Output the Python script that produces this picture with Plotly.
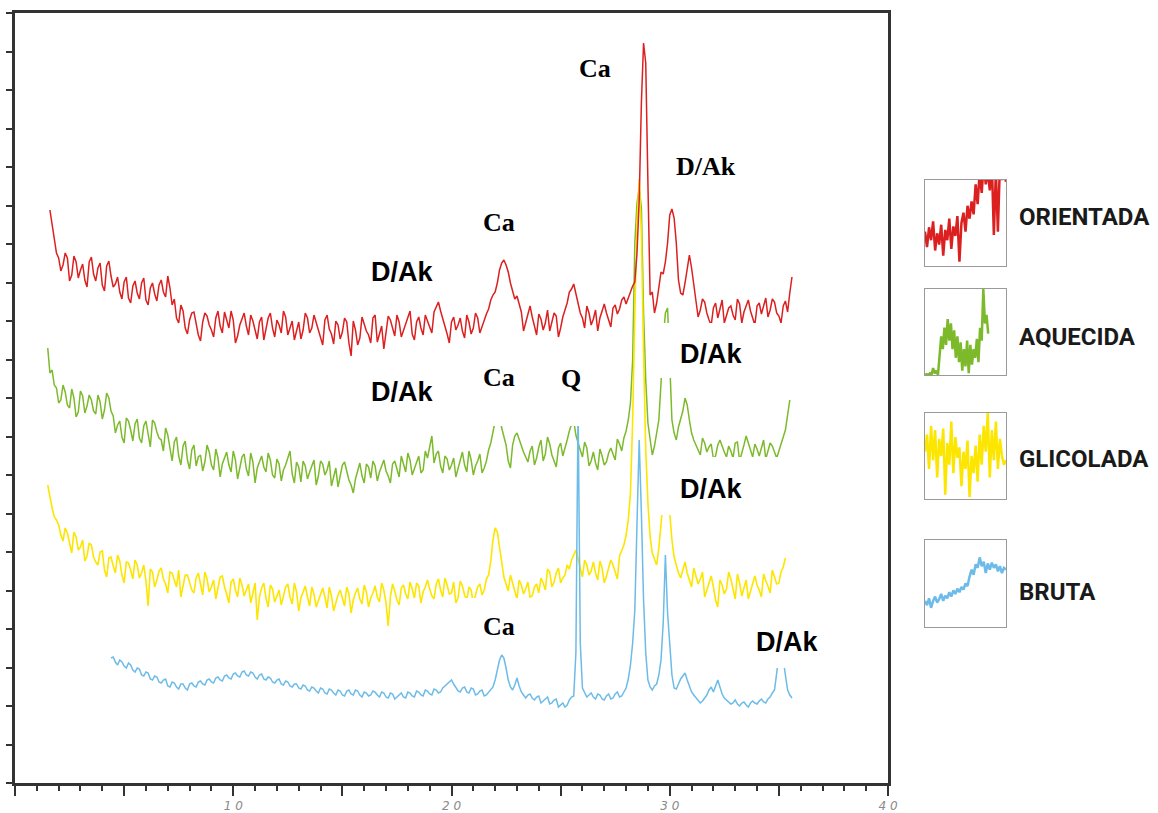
import numpy as np
import plotly.graph_objects as go

# ---------------- data: 2-theta (deg) vs intensity (arbitrary units, stacked traces) ----------------
# each series: readings on a 0.2 deg grid ("*_y") plus the readings half-way between them ("*_mid")
red_x0 = 1.6
red_y = [573, 545, 525, 518, 525, 508, 521, 513, 503, 521, 509, 515, 498, 517, 507, 499, 491, 501, 485, 497,
         490, 500, 483, 495, 489, 498, 491, 507, 478, 465, 478, 455, 463, 471, 448, 461, 467, 453, 465, 457,
         471, 455, 463, 447, 465, 457, 468, 453, 461, 443, 465, 455, 463, 450, 466, 456, 443, 461, 453, 465,
         455, 461, 446, 463, 454, 439, 458, 451, 461, 427, 453, 445, 459, 448, 465, 441, 457, 450, 463, 447,
         461, 453, 467, 449, 461, 455, 468, 457, 471, 481, 465, 449, 461, 453, 465, 445, 461, 455, 465, 457,
         469, 483, 491, 513, 523, 511, 493, 487, 471, 461, 477, 457, 469, 453, 473, 461, 467, 455, 473, 491,
         499, 481, 465, 477, 458, 473, 465, 479, 463, 475, 469, 483, 479, 493, 501, 583, 740, 600, 491, 480,
         511, 521, 568, 565, 503, 488, 513, 515, 483, 473, 481, 463, 475, 465, 483, 467, 477, 463, 479, 471,
         483, 465, 477, 469, 485, 473, 481, 467, 477, 471, 506]
red_mid = [560, 530, 512, 530, 502, 527, 505, 519, 496, 526, 502, 520, 492, 522, 496, 506, 484, 506, 480, 502,
           484, 505, 478, 500, 482, 503, 486, 495, 484, 460, 472, 449, 470, 459, 442, 470, 458, 446, 472, 450,
           463, 472, 440, 458, 470, 448, 462, 444, 466, 456, 470, 446, 458, 472, 448, 462, 452, 444, 470, 450,
           468, 452, 438, 468, 449, 462, 444, 465, 440, 462, 438, 466, 452, 440, 468, 450, 434, 467, 455, 468,
           446, 459, 472, 443, 466, 448, 462, 450, 476, 472, 457, 440, 466, 458, 452, 468, 449, 470, 450, 464,
           474, 488, 500, 520, 518, 500, 484, 478, 452, 470, 466, 448, 464, 460, 452, 470, 446, 466, 480, 494,
           490, 470, 455, 470, 464, 452, 472, 470, 456, 478, 474, 486, 485, 497, 530, 680, 720, 488, 470, 494,
           509, 540, 574, 540, 490, 500, 528, 497, 466, 484, 470, 458, 480, 474, 460, 475, 468, 484, 460, 478,
           472, 458, 480, 476, 466, 484, 470, 460, 482, 490]

green_x0 = 1.5
green_y = [435, 413, 395, 383, 391, 375, 385, 371, 387, 377, 383, 369, 381, 373, 385, 367, 358, 346, 365, 353,
           359, 345, 357, 349, 363, 351, 343, 355, 335, 341, 327, 337, 323, 333, 317, 328, 321, 331, 313, 325,
           319, 331, 311, 323, 317, 329, 307, 321, 315, 327, 311, 323, 305, 319, 313, 325, 309, 321, 301, 317,
           311, 323, 307, 319, 313, 297, 315, 309, 321, 303, 290, 313, 307, 319, 305, 317, 311, 323, 307, 319,
           313, 327, 311, 323, 315, 327, 313, 325, 347, 329, 317, 327, 313, 325, 315, 331, 311, 323, 317, 329,
           315, 333, 353, 365, 355, 338, 315, 347, 343, 331, 321, 337, 325, 343, 329, 339, 321, 335, 327, 343,
           359, 348, 333, 341, 317, 331, 313, 327, 321, 335, 323, 339, 345, 363, 423, 580, 575, 403, 343, 337,
           363, 443, 475, 363, 343, 365, 385, 363, 343, 333, 345, 331, 339, 327, 343, 331, 337, 325, 341, 329,
           347, 333, 339, 327, 343, 331, 337, 325, 338, 353, 383]
green_mid = [410, 398, 380, 398, 378, 394, 366, 392, 370, 388, 372, 388, 364, 390, 372, 350, 362, 340, 362, 342,
             364, 340, 362, 336, 360, 345, 332, 348, 322, 346, 318, 342, 314, 338, 326, 312, 338, 318, 334, 306,
             325, 318, 332, 304, 326, 314, 330, 300, 322, 316, 330, 308, 324, 302, 318, 332, 300, 316, 322, 304,
             318, 298, 322, 308, 322, 306, 296, 318, 312, 298, 304, 320, 300, 316, 322, 302, 318, 312, 300, 322,
             306, 320, 330, 308, 322, 310, 332, 336, 320, 332, 310, 324, 318, 306, 324, 318, 332, 308, 322, 310,
             322, 340, 362, 368, 345, 322, 338, 350, 336, 326, 332, 318, 336, 322, 346, 328, 316, 340, 334, 352,
             362, 340, 326, 335, 322, 320, 334, 318, 330, 328, 344, 332, 352, 380, 540, 595, 470, 360, 328, 350,
             400, 470, 420, 350, 356, 372, 378, 350, 338, 328, 340, 336, 324, 338, 336, 326, 332, 340, 322, 338,
             340, 326, 334, 336, 324, 340, 330, 332, 346, 370]

yellow_x0 = 1.5
yellow_y = [298, 275, 263, 248, 255, 238, 251, 233, 243, 227, 238, 221, 231, 213, 225, 217, 228, 208, 221, 213,
            223, 205, 218, 177, 211, 203, 215, 199, 211, 203, 213, 197, 208, 193, 205, 199, 211, 191, 203, 195,
            207, 189, 201, 193, 205, 187, 199, 191, 163, 195, 185, 198, 181, 193, 187, 199, 179, 191, 185, 197,
            177, 189, 183, 195, 175, 187, 181, 193, 177, 189, 183, 195, 179, 191, 185, 197, 181, 193, 157, 199,
            183, 195, 189, 201, 185, 197, 191, 203, 187, 199, 193, 205, 189, 201, 185, 197, 183, 193, 187, 199,
            193, 208, 243, 251, 221, 198, 208, 191, 203, 189, 201, 187, 199, 205, 193, 211, 201, 215, 205, 218,
            223, 233, 215, 223, 208, 221, 203, 215, 207, 223, 211, 227, 238, 263, 363, 560, 550, 333, 246, 223,
            235, 283, 303, 243, 217, 205, 221, 203, 215, 199, 211, 193, 207, 183, 203, 189, 211, 195, 209, 187,
            203, 191, 207, 193, 209, 197, 213, 199, 211, 225]
yellow_mid = [285, 266, 258, 242, 250, 230, 246, 236, 222, 240, 226, 218, 232, 206, 226, 210, 222, 200, 220, 204,
              218, 210, 202, 214, 196, 212, 204, 190, 210, 196, 186, 208, 200, 190, 210, 188, 204, 196, 184, 206,
              196, 180, 204, 186, 198, 194, 180, 200, 186, 200, 176, 194, 188, 178, 196, 186, 200, 172, 192, 186,
              196, 176, 190, 186, 196, 172, 188, 184, 196, 170, 190, 184, 198, 176, 190, 186, 200, 180, 186, 192,
              178, 198, 184, 194, 200, 180, 196, 194, 184, 204, 186, 198, 190, 180, 202, 188, 196, 180, 196, 188,
              204, 222, 255, 238, 206, 192, 200, 184, 198, 194, 186, 196, 190, 200, 214, 196, 210, 200, 208, 214,
              228, 224, 206, 218, 212, 210, 222, 200, 216, 218, 204, 232, 248, 290, 470, 604, 430, 280, 230, 218,
              260, 300, 270, 226, 210, 214, 210, 196, 208, 204, 186, 200, 196, 176, 198, 194, 204, 184, 200, 196,
              184, 200, 198, 186, 202, 190, 206, 200, 216]

blue_x0 = 4.4
blue_y = [125, 121, 123, 117, 120, 113, 115, 108, 111, 104, 107, 101, 103, 97, 101, 96, 99, 95, 99, 97,
          101, 99, 103, 101, 105, 103, 107, 105, 109, 107, 111, 108, 111, 106, 108, 104, 106, 101, 103, 99,
          102, 97, 99, 95, 98, 93, 96, 92, 95, 90, 94, 90, 93, 88, 92, 89, 93, 88, 91, 87,
          92, 88, 91, 86, 90, 84, 89, 86, 91, 87, 92, 88, 93, 89, 94, 90, 95, 99, 103, 95,
          91, 96, 90, 94, 89, 93, 88, 93, 103, 123, 125, 103, 93, 105, 91, 85, 89, 83, 87, 82,
          86, 80, 84, 78, 76, 83, 87, 378, 95, 86, 90, 84, 88, 83, 89, 85, 91, 87, 95, 118,
          173, 343, 183, 103, 93, 99, 123, 228, 133, 95, 99, 107, 103, 91, 85, 80, 85, 93, 91, 103,
          89, 83, 79, 83, 77, 81, 76, 82, 79, 84, 80, 86, 93, 128, 123, 93, 85]
blue_mid = [126, 118, 121, 115, 118, 111, 114, 107, 110, 103, 106, 100, 104, 96, 100, 94, 99, 93, 100, 96,
            102, 98, 104, 100, 106, 102, 108, 104, 110, 106, 112, 107, 110, 104, 109, 103, 105, 100, 104, 98,
            101, 96, 99, 94, 97, 92, 95, 90, 94, 89, 93, 88, 92, 87, 93, 88, 92, 86, 90, 88,
            91, 86, 90, 85, 89, 86, 90, 85, 90, 86, 91, 87, 92, 88, 93, 91, 97, 101, 99, 92,
            95, 91, 95, 88, 92, 87, 91, 96, 112, 128, 115, 96, 98, 97, 88, 88, 85, 86, 80, 85,
            79, 83, 76, 80, 78, 86, 130, 140, 90, 88, 86, 89, 84, 87, 84, 89, 86, 91, 104, 140,
            260, 270, 130, 96, 97, 108, 160, 170, 108, 94, 104, 110, 97, 88, 82, 82, 88, 96, 98, 96,
            85, 81, 80, 79, 80, 78, 80, 80, 82, 81, 84, 90, 110, 138, 108, 88]

# legend thumbnails (normalised 0-1 inside each little box)
leg_red = [0.40, 0.22, 0.45, 0.30, 0.52, 0.18, 0.38, 0.25, 0.48, 0.12, 0.42, 0.30, 0.55, 0.20, 0.46, 0.35,
           0.58, 0.05, 0.50, 0.62, 0.40, 0.70, 0.55, 0.75, 0.60, 0.95, 0.72, 1.10, 0.85, 1.20, 0.95, 1.10,
           0.88, 1.20, 0.36, 1.10, 0.40, 1.20, 1.00, 1.10, 0.98]
leg_green = [0.00, 0.01, 0.00, 0.02, 0.00, 0.08, 0.02, 0.05, 0.00, 0.25, 0.45, 0.30, 0.55, 0.35, 0.65, 0.40,
             0.60, 0.30, 0.52, 0.20, 0.45, 0.15, 0.38, 0.05, 0.30, 0.10, 0.40, 0.02, 0.35, 0.12, 0.30, 0.20,
             0.42, 0.15, 0.55, 0.40, 1.00, 0.60, 0.70, 0.48]
leg_yellow = [0.55, 0.75, 0.35, 0.85, 0.45, 0.80, 0.25, 0.70, 0.50, 0.82, 0.05, 0.65, 0.40, 0.90, 0.30, 0.72,
              0.48, 0.60, 0.15, 0.55, 0.35, 0.68, 0.02, 0.50, 0.30, 0.62, 0.20, 0.75, 0.40, 0.85, 0.55, 1.00,
              0.25, 0.80, 0.45, 0.90, 0.35, 0.70, 0.50, 0.40, 0.45]
leg_blue = [0.30, 0.25, 0.33, 0.22, 0.30, 0.35, 0.28, 0.32, 0.38, 0.30, 0.36, 0.33, 0.40, 0.35, 0.42, 0.38,
            0.44, 0.40, 0.46, 0.43, 0.50, 0.47, 0.58, 0.66, 0.60, 0.72, 0.68, 0.80, 0.70, 0.75, 0.62, 0.73,
            0.66, 0.74, 0.68, 0.72, 0.64, 0.70, 0.62, 0.68, 0.66]

names = ["ORIENTADA", "AQUECIDA", "GLICOLADA", "BRUTA"]
x_tickvals = [0, 5, 10, 15, 20, 25, 30, 35, 40]
x_ticktext = ["", "", "1 0", "", "2 0", "", "3 0", "", "4 0"]

RED, GREEN, YELLOW, BLUE = "#dc2020", "#7cba2c", "#fce600", "#6cbbe8"


def series(x0, ys, mids):
    """Interleave grid readings and mid-point readings -> 0.1 deg spaced series."""
    vals = []
    for i, v in enumerate(ys):
        vals.append(v)
        if i < len(mids) and i < len(ys) - 1:
            vals.append(mids[i])
    xs = np.round(x0 + 0.1 * np.arange(len(vals)), 2)
    return xs, vals


fig = go.Figure()
for x0, ys, mids, col, w in [(green_x0, green_y, green_mid, GREEN, 1.5),
                             (yellow_x0, yellow_y, yellow_mid, YELLOW, 1.6),
                             (blue_x0, blue_y, blue_mid, BLUE, 1.5),
                             (red_x0, red_y, red_mid, RED, 1.5)]:
    xs, vs = series(x0, ys, mids)
    fig.add_trace(go.Scatter(x=xs, y=vs, mode="lines", line=dict(color=col, width=w),
                             showlegend=False, hoverinfo="skip"))

thumbs = [(leg_red, RED, 1.0 / 40), (leg_green, GREEN, 0.02), (leg_yellow, YELLOW, 1.0 / 40),
          (leg_blue, BLUE, 1.0 / 40)]
for i, (ys, col, st) in enumerate(thumbs):
    k = i + 2
    fig.add_trace(go.Scatter(x=[j * st for j in range(len(ys))], y=ys, mode="lines",
                             line=dict(color=col, width=2.5), showlegend=False, hoverinfo="skip",
                             xaxis=f"x{k}", yaxis=f"y{k}"))

W, H = 1158, 813
ml, mr, mt, mb = 15, 10, 13, 30
pw, ph = W - ml - mr, H - mt - mb


def px2paper_x(p):
    return (p - ml) / pw


def py2paper_y(p):
    return (H - mb - p) / ph


layout = dict(
    width=W, height=H, margin=dict(l=ml, r=mr, t=mt, b=mb, autoexpand=False),
    paper_bgcolor="white", plot_bgcolor="white",
    xaxis=dict(domain=[0, px2paper_x(888)], range=[0, 40], tickvals=x_tickvals, ticktext=x_ticktext,
               ticks="outside", ticklen=10, tickwidth=2, tickcolor="#333", automargin=False,
               minor=dict(dtick=1, ticks="outside", ticklen=5, tickwidth=2, tickcolor="#333"),
               showline=True, linecolor="#333", linewidth=2.5, mirror=True, showgrid=False, zeroline=False,
               tickfont=dict(family="DejaVu Sans", size=12, color="#8a8a8a", style="italic"),
               ticklabelstandoff=0),
    yaxis=dict(domain=[0, 1], range=[0, 770], tick0=0, dtick=38.5, ticks="outside", ticklen=6, tickwidth=2,
               tickcolor="#333", showticklabels=False, showline=True, linecolor="#333", linewidth=2.5,
               mirror=True, showgrid=False, zeroline=False, automargin=False),
)
boxes_px = [(180, 266), (289, 375), (413, 499), (540, 627)]
for i, (t, b) in enumerate(boxes_px):
    k = i + 2
    layout[f"xaxis{k}"] = dict(domain=[px2paper_x(925), px2paper_x(1006)], range=[0, 1], anchor=f"y{k}",
                               showticklabels=False, ticks="", showgrid=False, zeroline=False,
                               automargin=False, showline=True, mirror=True, linecolor="#9a9a9a",
                               linewidth=1)
    layout[f"yaxis{k}"] = dict(domain=[py2paper_y(b), py2paper_y(t)], range=[0, 1], anchor=f"x{k}",
                               showticklabels=False, ticks="", showgrid=False, zeroline=False,
                               automargin=False, showline=True, mirror=True, linecolor="#9a9a9a",
                               linewidth=1)
fig.update_layout(**layout)

# white label backgrounds that mask parts of the traces, as in the original figure
mask_boxes = [(29.5, 35.8, 405, 460), (29.17, 35.55, 268, 326), (20.87, 26.06, 357, 421),
              (20.55, 24.4, 133, 185), (33.72, 37.0, 115, 158)]
for x0, x1, y0, y1 in mask_boxes:
    fig.add_shape(type="rect", x0=x0, x1=x1, y0=y0, y1=y1, xref="x", yref="y",
                  fillcolor="white", line=dict(width=0), layer="above")

serif = dict(family="Liberation Serif", size=26, color="black", weight="bold")
sans = dict(family="Liberation Sans", size=27, color="black", weight="bold")
peak_labels = [
    ("Ca", 26.56, 715, serif), ("D/Ak", 31.65, 617, serif), ("Ca", 22.16, 561, serif),
    ("D/Ak", 17.75, 511, sans), ("D/Ak", 17.75, 391, sans), ("Ca", 22.16, 406, serif),
    ("Q", 25.46, 405, serif), ("D/Ak", 31.88, 429, sans), ("D/Ak", 31.88, 294, sans),
    ("Ca", 22.16, 157, serif), ("D/Ak", 35.37, 141, sans),
]
for txt, x, y, f in peak_labels:
    fig.add_annotation(x=x, y=y, xref="x", yref="y", text=txt, showarrow=False, font=f)

legend_y_px = [217, 337, 459, 592]
for name, py in zip(names, legend_y_px):
    fig.add_annotation(x=px2paper_x(1017), y=py2paper_y(py), xref="paper", yref="paper", text=name,
                       showarrow=False, xanchor="left", yanchor="middle",
                       font=dict(family="Roboto", size=24, color="#1a1a1a", weight="bold"))

fig.write_html("out.html")
